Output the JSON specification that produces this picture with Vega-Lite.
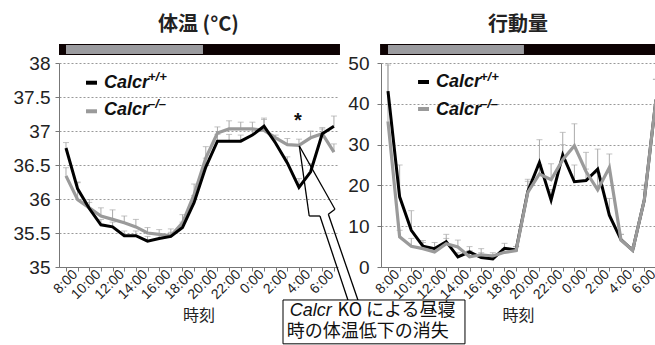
{
  "$schema": "https://vega.github.io/schema/vega-lite/v6.json",
  "padding": {"left": 13, "top": 14, "right": 0, "bottom": 0},
  "bounds": "flush",
  "spacing": 43,
  "config": {
    "font": "Liberation Sans",
    "view": {"stroke": null},
    "axis": {"labelFont": "Liberation Sans", "labelColor": "#222222", "domainColor": "#777777", "tickColor": "#777777", "gridColor": "#999999", "gridDash": [2, 2], "titleFont": "Noto Sans CJK JP", "titleFontWeight": "normal", "titleColor": "#222222", "labelOverlap": false, "labelFlush": false, "labelBound": false, "tickSize": 4},
    "axisX": {"labelAngle": -45, "labelAlign": "right", "labelBaseline": "middle", "labelFontSize": 14, "labelPadding": 1, "labelOffset": 9, "grid": false, "titleFontSize": 16, "titlePadding": 6},
    "axisY": {"grid": true, "labelFontSize": 19},
    "title": {"font": "Noto Sans CJK JP", "fontSize": 20, "fontWeight": "bold", "color": "#222222", "baseline": "bottom", "offset": 9}
  },
  "datasets": {
    "temp": [
      {"s":"wt","h":0,"v":36.75,"hi":36.83},{"s":"wt","h":1,"v":36.15,"hi":36.24},{"s":"wt","h":2,"v":35.86,"hi":35.95},{"s":"wt","h":3,"v":35.62,"hi":35.7},{"s":"wt","h":4,"v":35.59,"hi":35.66},{"s":"wt","h":5,"v":35.46,"hi":35.53},{"s":"wt","h":6,"v":35.46,"hi":35.53},{"s":"wt","h":7,"v":35.38,"hi":35.45},{"s":"wt","h":8,"v":35.42,"hi":35.48},{"s":"wt","h":9,"v":35.45,"hi":35.51},{"s":"wt","h":10,"v":35.58,"hi":35.66},{"s":"wt","h":11,"v":35.95,"hi":36.05},{"s":"wt","h":12,"v":36.47,"hi":36.6},{"s":"wt","h":13,"v":36.85,"hi":36.95},{"s":"wt","h":14,"v":36.85,"hi":36.95},{"s":"wt","h":15,"v":36.85,"hi":36.94},{"s":"wt","h":16,"v":36.94,"hi":37.02},{"s":"wt","h":17,"v":37.07,"hi":37.17},{"s":"wt","h":18,"v":36.82,"hi":36.9},{"s":"wt","h":19,"v":36.53,"hi":36.62},{"s":"wt","h":20,"v":36.17,"hi":36.3},{"s":"wt","h":21,"v":36.4,"hi":36.52},{"s":"wt","h":22,"v":36.96,"hi":37.05},{"s":"wt","h":23,"v":37.07,"hi":37.22},
      {"s":"ko","h":0,"v":36.34,"hi":36.46},{"s":"ko","h":1,"v":35.99,"hi":36.25},{"s":"ko","h":2,"v":35.87,"hi":35.99},{"s":"ko","h":3,"v":35.75,"hi":35.87},{"s":"ko","h":4,"v":35.7,"hi":35.84},{"s":"ko","h":5,"v":35.65,"hi":35.75},{"s":"ko","h":6,"v":35.59,"hi":35.7},{"s":"ko","h":7,"v":35.5,"hi":35.58},{"s":"ko","h":8,"v":35.48,"hi":35.55},{"s":"ko","h":9,"v":35.46,"hi":35.56},{"s":"ko","h":10,"v":35.65,"hi":35.77},{"s":"ko","h":11,"v":36.07,"hi":36.22},{"s":"ko","h":12,"v":36.6,"hi":36.77},{"s":"ko","h":13,"v":36.97,"hi":37.06},{"s":"ko","h":14,"v":37.03,"hi":37.15},{"s":"ko","h":15,"v":37.03,"hi":37.13},{"s":"ko","h":16,"v":37.03,"hi":37.13},{"s":"ko","h":17,"v":37.01,"hi":37.19},{"s":"ko","h":18,"v":36.9,"hi":36.94},{"s":"ko","h":19,"v":36.8,"hi":36.89},{"s":"ko","h":20,"v":36.79,"hi":36.88},{"s":"ko","h":21,"v":36.9,"hi":37.0},{"s":"ko","h":22,"v":36.96,"hi":37.03},{"s":"ko","h":23,"v":36.69,"hi":36.81}
    ],
    "act": [
      {"s":"wt","h":0,"v":43.1,"hi":50},{"s":"wt","h":1,"v":17.2,"hi":25},{"s":"wt","h":2,"v":9.0,"hi":13.8},{"s":"wt","h":3,"v":5.1,"hi":6.5},{"s":"wt","h":4,"v":4.5,"hi":6.0},{"s":"wt","h":5,"v":6.2,"hi":8.0},{"s":"wt","h":6,"v":2.5,"hi":3.5},{"s":"wt","h":7,"v":3.7,"hi":5.0},{"s":"wt","h":8,"v":2.3,"hi":3.5},{"s":"wt","h":9,"v":2.0,"hi":3.0},{"s":"wt","h":10,"v":4.6,"hi":5.8},{"s":"wt","h":11,"v":4.2,"hi":5.0},{"s":"wt","h":12,"v":18.5,"hi":21.5},{"s":"wt","h":13,"v":25.6,"hi":31.2},{"s":"wt","h":14,"v":16.4,"hi":19.0},{"s":"wt","h":15,"v":27.5,"hi":33.0},{"s":"wt","h":16,"v":20.9,"hi":25.0},{"s":"wt","h":17,"v":21.2,"hi":24.0},{"s":"wt","h":18,"v":24.0,"hi":28.9},{"s":"wt","h":19,"v":12.7,"hi":16.8},{"s":"wt","h":20,"v":6.7,"hi":8.0},{"s":"wt","h":21,"v":4.1,"hi":5.0},{"s":"wt","h":22,"v":16.4,"hi":20.1},{"s":"wt","h":23,"v":41,"hi":46},
      {"s":"ko","h":0,"v":35.7,"hi":49.5},{"s":"ko","h":1,"v":7.4,"hi":9.0},{"s":"ko","h":2,"v":5.1,"hi":7.0},{"s":"ko","h":3,"v":4.5,"hi":6.0},{"s":"ko","h":4,"v":3.7,"hi":4.5},{"s":"ko","h":5,"v":5.7,"hi":7.0},{"s":"ko","h":6,"v":4.9,"hi":6.6},{"s":"ko","h":7,"v":2.5,"hi":4.0},{"s":"ko","h":8,"v":3.0,"hi":4.5},{"s":"ko","h":9,"v":2.7,"hi":3.5},{"s":"ko","h":10,"v":3.6,"hi":4.5},{"s":"ko","h":11,"v":4.0,"hi":5.0},{"s":"ko","h":12,"v":18.3,"hi":21.0},{"s":"ko","h":13,"v":22.8,"hi":25.0},{"s":"ko","h":14,"v":21.4,"hi":25.3},{"s":"ko","h":15,"v":26.3,"hi":30.0},{"s":"ko","h":16,"v":29.7,"hi":35.1},{"s":"ko","h":17,"v":23.4,"hi":28.1},{"s":"ko","h":18,"v":18.9,"hi":23.0},{"s":"ko","h":19,"v":24.4,"hi":27.7},{"s":"ko","h":20,"v":6.6,"hi":8.0},{"s":"ko","h":21,"v":4.1,"hi":5.0},{"s":"ko","h":22,"v":16.4,"hi":19.0},{"s":"ko","h":23,"v":41,"hi":46}
    ]
  },
  "hconcat": [
    {
      "width": 279,
      "height": 204,
      "title": {"text": "体温 (°C)"},
      "layer": [
        {"data": {"name": "temp"}, "mark": {"type": "rule", "color": "#aaaaaa", "strokeWidth": 1},
         "encoding": {
           "x": {"field": "h", "type": "quantitative", "scale": {"domain": [-0.6, 23.35], "nice": false, "zero": false}, "axis": {"values": [0,1,2,3,4,5,6,7,8,9,10,11,12,13,14,15,16,17,18,19,20,21,22,23], "labelExpr": "datum.value % 2 == 0 ? ((datum.value + 8) % 24) + ':00' : ''", "title": "時刻"}},
           "y": {"field": "v", "type": "quantitative", "scale": {"domain": [35, 38], "nice": false, "zero": false}, "axis": {"values": [35, 35.5, 36, 36.5, 37, 37.5, 38], "labelExpr": "datum.value + ''", "title": null, "labelPadding": 5}},
           "y2": {"field": "hi"}}},
        {"data": {"name": "temp"}, "mark": {"type": "tick", "orient": "horizontal", "color": "#aaaaaa", "size": 6, "thickness": 1},
         "encoding": {
           "x": {"field": "h", "type": "quantitative", "axis": {"values": [0,1,2,3,4,5,6,7,8,9,10,11,12,13,14,15,16,17,18,19,20,21,22,23], "labelExpr": "datum.value % 2 == 0 ? ((datum.value + 8) % 24) + ':00' : ''", "title": "時刻"}},
           "y": {"field": "hi", "type": "quantitative", "axis": {"values": [35, 35.5, 36, 36.5, 37, 37.5, 38], "labelExpr": "datum.value + ''", "title": null, "labelPadding": 5}}}},
        {"data": {"name": "temp"}, "transform": [{"filter": "datum.s == 'ko'"}], "mark": {"type": "line", "color": "#9a9a9a", "strokeWidth": 3.2},
         "encoding": {
           "x": {"field": "h", "type": "quantitative", "axis": {"values": [0,1,2,3,4,5,6,7,8,9,10,11,12,13,14,15,16,17,18,19,20,21,22,23], "labelExpr": "datum.value % 2 == 0 ? ((datum.value + 8) % 24) + ':00' : ''", "title": "時刻"}},
           "y": {"field": "v", "type": "quantitative", "axis": {"values": [35, 35.5, 36, 36.5, 37, 37.5, 38], "labelExpr": "datum.value + ''", "title": null, "labelPadding": 5}}}},
        {"data": {"name": "temp"}, "transform": [{"filter": "datum.s == 'wt'"}], "mark": {"type": "line", "color": "#000000", "strokeWidth": 3},
         "encoding": {
           "x": {"field": "h", "type": "quantitative", "axis": {"values": [0,1,2,3,4,5,6,7,8,9,10,11,12,13,14,15,16,17,18,19,20,21,22,23], "labelExpr": "datum.value % 2 == 0 ? ((datum.value + 8) % 24) + ':00' : ''", "title": "時刻"}},
           "y": {"field": "v", "type": "quantitative", "axis": {"values": [35, 35.5, 36, 36.5, 37, 37.5, 38], "labelExpr": "datum.value + ''", "title": null, "labelPadding": 5}}}},
        {"data": {"values": [{}]}, "mark": {"type": "rect", "color": "#0d0203", "clip": false},
         "encoding": {"x": {"datum": -0.6, "type": "quantitative", "axis": {"values": [0,1,2,3,4,5,6,7,8,9,10,11,12,13,14,15,16,17,18,19,20,21,22,23], "labelExpr": "datum.value % 2 == 0 ? ((datum.value + 8) % 24) + ':00' : ''", "title": "時刻"}}, "x2": {"datum": 23.52}, "y": {"datum": 38.28, "type": "quantitative", "axis": {"values": [35, 35.5, 36, 36.5, 37, 37.5, 38], "labelExpr": "datum.value + ''", "title": null, "labelPadding": 5}}, "y2": {"datum": 38.118}}},
        {"data": {"values": [{}]}, "mark": {"type": "rect", "color": "#9b9b9f", "clip": false},
         "encoding": {"x": {"datum": 0, "type": "quantitative", "axis": {"values": [0,1,2,3,4,5,6,7,8,9,10,11,12,13,14,15,16,17,18,19,20,21,22,23], "labelExpr": "datum.value % 2 == 0 ? ((datum.value + 8) % 24) + ':00' : ''", "title": "時刻"}}, "x2": {"datum": 11.76}, "y": {"datum": 38.265, "type": "quantitative", "axis": {"values": [35, 35.5, 36, 36.5, 37, 37.5, 38], "labelExpr": "datum.value + ''", "title": null, "labelPadding": 5}}, "y2": {"datum": 38.132}}},
        {"data": {"values": [{}]}, "mark": {"type": "rule", "color": "#000000", "strokeWidth": 4, "clip": false},
         "encoding": {"x": {"datum": 1.72, "type": "quantitative", "axis": {"values": [0,1,2,3,4,5,6,7,8,9,10,11,12,13,14,15,16,17,18,19,20,21,22,23], "labelExpr": "datum.value % 2 == 0 ? ((datum.value + 8) % 24) + ':00' : ''", "title": "時刻"}}, "x2": {"datum": 2.66}, "y": {"datum": 37.71, "type": "quantitative", "axis": {"values": [35, 35.5, 36, 36.5, 37, 37.5, 38], "labelExpr": "datum.value + ''", "title": null, "labelPadding": 5}}}},
        {"data": {"values": [{}]}, "mark": {"type": "rule", "color": "#9a9a9a", "strokeWidth": 4, "clip": false},
         "encoding": {"x": {"datum": 1.72, "type": "quantitative", "axis": {"values": [0,1,2,3,4,5,6,7,8,9,10,11,12,13,14,15,16,17,18,19,20,21,22,23], "labelExpr": "datum.value % 2 == 0 ? ((datum.value + 8) % 24) + ':00' : ''", "title": "時刻"}}, "x2": {"datum": 2.66}, "y": {"datum": 37.29, "type": "quantitative", "axis": {"values": [35, 35.5, 36, 36.5, 37, 37.5, 38], "labelExpr": "datum.value + ''", "title": null, "labelPadding": 5}}}},
        {"data": {"values": [{}]}, "mark": {"type": "text", "text": "Calcr", "font": "Liberation Sans", "fontWeight": "bold", "fontStyle": "italic", "fontSize": 18, "align": "left", "baseline": "middle", "color": "#111111"},
         "encoding": {"x": {"datum": 3.26, "type": "quantitative", "axis": {"values": [0,1,2,3,4,5,6,7,8,9,10,11,12,13,14,15,16,17,18,19,20,21,22,23], "labelExpr": "datum.value % 2 == 0 ? ((datum.value + 8) % 24) + ':00' : ''", "title": "時刻"}}, "y": {"datum": 37.713, "type": "quantitative", "axis": {"values": [35, 35.5, 36, 36.5, 37, 37.5, 38], "labelExpr": "datum.value + ''", "title": null, "labelPadding": 5}}}},
        {"data": {"values": [{}]}, "mark": {"type": "text", "text": "+/+", "font": "Liberation Sans", "fontWeight": "bold", "fontStyle": "italic", "fontSize": 13, "align": "left", "baseline": "middle", "color": "#111111"},
         "encoding": {"x": {"datum": 7.04, "type": "quantitative", "axis": {"values": [0,1,2,3,4,5,6,7,8,9,10,11,12,13,14,15,16,17,18,19,20,21,22,23], "labelExpr": "datum.value % 2 == 0 ? ((datum.value + 8) % 24) + ':00' : ''", "title": "時刻"}}, "y": {"datum": 37.8, "type": "quantitative", "axis": {"values": [35, 35.5, 36, 36.5, 37, 37.5, 38], "labelExpr": "datum.value + ''", "title": null, "labelPadding": 5}}}},
        {"data": {"values": [{}]}, "mark": {"type": "text", "text": "Calcr", "font": "Liberation Sans", "fontWeight": "bold", "fontStyle": "italic", "fontSize": 18, "align": "left", "baseline": "middle", "color": "#111111"},
         "encoding": {"x": {"datum": 3.26, "type": "quantitative", "axis": {"values": [0,1,2,3,4,5,6,7,8,9,10,11,12,13,14,15,16,17,18,19,20,21,22,23], "labelExpr": "datum.value % 2 == 0 ? ((datum.value + 8) % 24) + ':00' : ''", "title": "時刻"}}, "y": {"datum": 37.316, "type": "quantitative", "axis": {"values": [35, 35.5, 36, 36.5, 37, 37.5, 38], "labelExpr": "datum.value + ''", "title": null, "labelPadding": 5}}}},
        {"data": {"values": [{}]}, "mark": {"type": "text", "text": "–/–", "font": "Liberation Sans", "fontWeight": "bold", "fontStyle": "italic", "fontSize": 13, "align": "left", "baseline": "middle", "color": "#111111"},
         "encoding": {"x": {"datum": 7.04, "type": "quantitative", "axis": {"values": [0,1,2,3,4,5,6,7,8,9,10,11,12,13,14,15,16,17,18,19,20,21,22,23], "labelExpr": "datum.value % 2 == 0 ? ((datum.value + 8) % 24) + ':00' : ''", "title": "時刻"}}, "y": {"datum": 37.4, "type": "quantitative", "axis": {"values": [35, 35.5, 36, 36.5, 37, 37.5, 38], "labelExpr": "datum.value + ''", "title": null, "labelPadding": 5}}}},
        {"data": {"values": [{}]}, "mark": {"type": "text", "text": "*", "font": "Liberation Sans", "fontWeight": "bold", "fontSize": 20, "align": "center", "baseline": "middle", "color": "#111111"},
         "encoding": {"x": {"datum": 19.9, "type": "quantitative", "axis": {"values": [0,1,2,3,4,5,6,7,8,9,10,11,12,13,14,15,16,17,18,19,20,21,22,23], "labelExpr": "datum.value % 2 == 0 ? ((datum.value + 8) % 24) + ':00' : ''", "title": "時刻"}}, "y": {"datum": 37.15, "type": "quantitative", "axis": {"values": [35, 35.5, 36, 36.5, 37, 37.5, 38], "labelExpr": "datum.value + ''", "title": null, "labelPadding": 5}}}},
        {"data": {"values": [{}]}, "mark": {"type": "rule", "color": "#000000", "strokeWidth": 1.3, "clip": false},
         "encoding": {"x": {"datum": 20.03, "type": "quantitative", "axis": {"values": [0,1,2,3,4,5,6,7,8,9,10,11,12,13,14,15,16,17,18,19,20,21,22,23], "labelExpr": "datum.value % 2 == 0 ? ((datum.value + 8) % 24) + ':00' : ''", "title": "時刻"}}, "y": {"datum": 36.78, "type": "quantitative", "axis": {"values": [35, 35.5, 36, 36.5, 37, 37.5, 38], "labelExpr": "datum.value + ''", "title": null, "labelPadding": 5}}, "x2": {"datum": 20.88}, "y2": {"datum": 35.75}}},
        {"data": {"values": [{}]}, "mark": {"type": "rule", "color": "#000000", "strokeWidth": 1.3, "clip": false},
         "encoding": {"x": {"datum": 20.88, "type": "quantitative", "axis": {"values": [0,1,2,3,4,5,6,7,8,9,10,11,12,13,14,15,16,17,18,19,20,21,22,23], "labelExpr": "datum.value % 2 == 0 ? ((datum.value + 8) % 24) + ':00' : ''", "title": "時刻"}}, "y": {"datum": 35.75, "type": "quantitative", "axis": {"values": [35, 35.5, 36, 36.5, 37, 37.5, 38], "labelExpr": "datum.value + ''", "title": null, "labelPadding": 5}}, "x2": {"datum": 21.8}, "y2": {"datum": 35.75}}},
        {"data": {"values": [{}]}, "mark": {"type": "rule", "color": "#000000", "strokeWidth": 1.3, "clip": false},
         "encoding": {"x": {"datum": 21.8, "type": "quantitative", "axis": {"values": [0,1,2,3,4,5,6,7,8,9,10,11,12,13,14,15,16,17,18,19,20,21,22,23], "labelExpr": "datum.value % 2 == 0 ? ((datum.value + 8) % 24) + ':00' : ''", "title": "時刻"}}, "y": {"datum": 35.75, "type": "quantitative", "axis": {"values": [35, 35.5, 36, 36.5, 37, 37.5, 38], "labelExpr": "datum.value + ''", "title": null, "labelPadding": 5}}, "x2": {"datum": 24.23}, "y2": {"datum": 34.5}}},
        {"data": {"values": [{}]}, "mark": {"type": "rule", "color": "#000000", "strokeWidth": 1.3, "clip": false},
         "encoding": {"x": {"datum": 25.09, "type": "quantitative", "axis": {"values": [0,1,2,3,4,5,6,7,8,9,10,11,12,13,14,15,16,17,18,19,20,21,22,23], "labelExpr": "datum.value % 2 == 0 ? ((datum.value + 8) % 24) + ':00' : ''", "title": "時刻"}}, "y": {"datum": 34.5, "type": "quantitative", "axis": {"values": [35, 35.5, 36, 36.5, 37, 37.5, 38], "labelExpr": "datum.value + ''", "title": null, "labelPadding": 5}}, "x2": {"datum": 22.52}, "y2": {"datum": 35.775}}},
        {"data": {"values": [{}]}, "mark": {"type": "rule", "color": "#000000", "strokeWidth": 1.3, "clip": false},
         "encoding": {"x": {"datum": 22.52, "type": "quantitative", "axis": {"values": [0,1,2,3,4,5,6,7,8,9,10,11,12,13,14,15,16,17,18,19,20,21,22,23], "labelExpr": "datum.value % 2 == 0 ? ((datum.value + 8) % 24) + ':00' : ''", "title": "時刻"}}, "y": {"datum": 35.775, "type": "quantitative", "axis": {"values": [35, 35.5, 36, 36.5, 37, 37.5, 38], "labelExpr": "datum.value + ''", "title": null, "labelPadding": 5}}, "x2": {"datum": 23.09}, "y2": {"datum": 35.85}}},
        {"data": {"values": [{}]}, "mark": {"type": "rule", "color": "#000000", "strokeWidth": 1.3, "clip": false},
         "encoding": {"x": {"datum": 23.09, "type": "quantitative", "axis": {"values": [0,1,2,3,4,5,6,7,8,9,10,11,12,13,14,15,16,17,18,19,20,21,22,23], "labelExpr": "datum.value % 2 == 0 ? ((datum.value + 8) % 24) + ':00' : ''", "title": "時刻"}}, "y": {"datum": 35.85, "type": "quantitative", "axis": {"values": [35, 35.5, 36, 36.5, 37, 37.5, 38], "labelExpr": "datum.value + ''", "title": null, "labelPadding": 5}}, "x2": {"datum": 20.03}, "y2": {"datum": 36.78}}},
        {"data": {"values": [{}]}, "mark": {"type": "rect", "fill": "#ffffff", "stroke": "#000000", "strokeWidth": 1, "clip": false},
         "encoding": {"x": {"datum": 18.63, "type": "quantitative", "axis": {"values": [0,1,2,3,4,5,6,7,8,9,10,11,12,13,14,15,16,17,18,19,20,21,22,23], "labelExpr": "datum.value % 2 == 0 ? ((datum.value + 8) % 24) + ':00' : ''", "title": "時刻"}}, "x2": {"datum": 34.25}, "y": {"datum": 34.515, "type": "quantitative", "axis": {"values": [35, 35.5, 36, 36.5, 37, 37.5, 38], "labelExpr": "datum.value + ''", "title": null, "labelPadding": 5}}, "y2": {"datum": 33.87}}},
        {"data": {"values": [{}]}, "mark": {"type": "text", "text": "Calcr", "font": "Liberation Sans", "fontStyle": "italic", "fontSize": 18, "align": "left", "baseline": "middle", "color": "#111111"},
         "encoding": {"x": {"datum": 19.2, "type": "quantitative", "axis": {"values": [0,1,2,3,4,5,6,7,8,9,10,11,12,13,14,15,16,17,18,19,20,21,22,23], "labelExpr": "datum.value % 2 == 0 ? ((datum.value + 8) % 24) + ':00' : ''", "title": "時刻"}}, "y": {"datum": 34.355, "type": "quantitative", "axis": {"values": [35, 35.5, 36, 36.5, 37, 37.5, 38], "labelExpr": "datum.value + ''", "title": null, "labelPadding": 5}}}},
        {"data": {"values": [{}]}, "mark": {"type": "text", "text": "KO による昼寝", "font": "Noto Sans CJK JP", "fontSize": 18, "align": "left", "baseline": "middle", "color": "#111111"},
         "encoding": {"x": {"datum": 23.3, "type": "quantitative", "axis": {"values": [0,1,2,3,4,5,6,7,8,9,10,11,12,13,14,15,16,17,18,19,20,21,22,23], "labelExpr": "datum.value % 2 == 0 ? ((datum.value + 8) % 24) + ':00' : ''", "title": "時刻"}}, "y": {"datum": 34.355, "type": "quantitative", "axis": {"values": [35, 35.5, 36, 36.5, 37, 37.5, 38], "labelExpr": "datum.value + ''", "title": null, "labelPadding": 5}}}},
        {"data": {"values": [{}]}, "mark": {"type": "text", "text": "時の体温低下の消失", "font": "Noto Sans CJK JP", "fontSize": 18, "align": "left", "baseline": "middle", "color": "#111111"},
         "encoding": {"x": {"datum": 18.95, "type": "quantitative", "axis": {"values": [0,1,2,3,4,5,6,7,8,9,10,11,12,13,14,15,16,17,18,19,20,21,22,23], "labelExpr": "datum.value % 2 == 0 ? ((datum.value + 8) % 24) + ':00' : ''", "title": "時刻"}}, "y": {"datum": 34.05, "type": "quantitative", "axis": {"values": [35, 35.5, 36, 36.5, 37, 37.5, 38], "labelExpr": "datum.value + ''", "title": null, "labelPadding": 5}}}}
      ]
    },
    {
      "width": 274,
      "height": 204,
      "title": {"text": "行動量"},
      "layer": [
        {"data": {"name": "act"}, "mark": {"type": "rule", "color": "#aaaaaa", "strokeWidth": 1, "clip": true},
         "encoding": {
           "x": {"field": "h", "type": "quantitative", "scale": {"domain": [-0.6, 22.92], "nice": false, "zero": false}, "axis": {"values": [0,1,2,3,4,5,6,7,8,9,10,11,12,13,14,15,16,17,18,19,20,21,22], "labelExpr": "datum.value % 2 == 0 ? ((datum.value + 8) % 24) + ':00' : ''", "title": "時刻"}},
           "y": {"field": "v", "type": "quantitative", "scale": {"domain": [0, 50], "nice": false, "zero": false}, "axis": {"values": [0, 10, 20, 30, 40, 50], "title": null, "labelPadding": 8}},
           "y2": {"field": "hi"}}},
        {"data": {"name": "act"}, "mark": {"type": "tick", "orient": "horizontal", "color": "#aaaaaa", "size": 6, "thickness": 1, "clip": true},
         "encoding": {
           "x": {"field": "h", "type": "quantitative", "axis": {"values": [0,1,2,3,4,5,6,7,8,9,10,11,12,13,14,15,16,17,18,19,20,21,22], "labelExpr": "datum.value % 2 == 0 ? ((datum.value + 8) % 24) + ':00' : ''", "title": "時刻"}},
           "y": {"field": "hi", "type": "quantitative", "axis": {"values": [0, 10, 20, 30, 40, 50], "title": null, "labelPadding": 8}}}},
        {"data": {"name": "act"}, "transform": [{"filter": "datum.s == 'wt'"}], "mark": {"type": "line", "color": "#000000", "strokeWidth": 3, "clip": true},
         "encoding": {
           "x": {"field": "h", "type": "quantitative", "axis": {"values": [0,1,2,3,4,5,6,7,8,9,10,11,12,13,14,15,16,17,18,19,20,21,22], "labelExpr": "datum.value % 2 == 0 ? ((datum.value + 8) % 24) + ':00' : ''", "title": "時刻"}},
           "y": {"field": "v", "type": "quantitative", "axis": {"values": [0, 10, 20, 30, 40, 50], "title": null, "labelPadding": 8}}}},
        {"data": {"name": "act"}, "transform": [{"filter": "datum.s == 'ko'"}], "mark": {"type": "line", "color": "#9a9a9a", "strokeWidth": 3.2, "clip": true},
         "encoding": {
           "x": {"field": "h", "type": "quantitative", "axis": {"values": [0,1,2,3,4,5,6,7,8,9,10,11,12,13,14,15,16,17,18,19,20,21,22], "labelExpr": "datum.value % 2 == 0 ? ((datum.value + 8) % 24) + ':00' : ''", "title": "時刻"}},
           "y": {"field": "v", "type": "quantitative", "axis": {"values": [0, 10, 20, 30, 40, 50], "title": null, "labelPadding": 8}}}},
        {"data": {"values": [{}]}, "mark": {"type": "rect", "color": "#0d0203", "clip": false},
         "encoding": {"x": {"datum": -0.68, "type": "quantitative", "axis": {"values": [0,1,2,3,4,5,6,7,8,9,10,11,12,13,14,15,16,17,18,19,20,21,22], "labelExpr": "datum.value % 2 == 0 ? ((datum.value + 8) % 24) + ':00' : ''", "title": "時刻"}}, "x2": {"datum": 22.92}, "y": {"datum": 54.68, "type": "quantitative", "axis": {"values": [0, 10, 20, 30, 40, 50], "title": null, "labelPadding": 8}}, "y2": {"datum": 51.97}}},
        {"data": {"values": [{}]}, "mark": {"type": "rect", "color": "#9b9b9f", "clip": false},
         "encoding": {"x": {"datum": 0, "type": "quantitative", "axis": {"values": [0,1,2,3,4,5,6,7,8,9,10,11,12,13,14,15,16,17,18,19,20,21,22], "labelExpr": "datum.value % 2 == 0 ? ((datum.value + 8) % 24) + ':00' : ''", "title": "時刻"}}, "x2": {"datum": 11.67}, "y": {"datum": 54.43, "type": "quantitative", "axis": {"values": [0, 10, 20, 30, 40, 50], "title": null, "labelPadding": 8}}, "y2": {"datum": 52.2}}},
        {"data": {"values": [{}]}, "mark": {"type": "rule", "color": "#000000", "strokeWidth": 4},
         "encoding": {"x": {"datum": 2.58, "type": "quantitative", "axis": {"values": [0,1,2,3,4,5,6,7,8,9,10,11,12,13,14,15,16,17,18,19,20,21,22], "labelExpr": "datum.value % 2 == 0 ? ((datum.value + 8) % 24) + ':00' : ''", "title": "時刻"}}, "x2": {"datum": 3.52}, "y": {"datum": 45.34, "type": "quantitative", "axis": {"values": [0, 10, 20, 30, 40, 50], "title": null, "labelPadding": 8}}}},
        {"data": {"values": [{}]}, "mark": {"type": "rule", "color": "#9a9a9a", "strokeWidth": 4},
         "encoding": {"x": {"datum": 2.58, "type": "quantitative", "axis": {"values": [0,1,2,3,4,5,6,7,8,9,10,11,12,13,14,15,16,17,18,19,20,21,22], "labelExpr": "datum.value % 2 == 0 ? ((datum.value + 8) % 24) + ':00' : ''", "title": "時刻"}}, "x2": {"datum": 3.52}, "y": {"datum": 38.73, "type": "quantitative", "axis": {"values": [0, 10, 20, 30, 40, 50], "title": null, "labelPadding": 8}}}},
        {"data": {"values": [{}]}, "mark": {"type": "text", "text": "Calcr", "font": "Liberation Sans", "fontWeight": "bold", "fontStyle": "italic", "fontSize": 18, "align": "left", "baseline": "middle", "color": "#111111"},
         "encoding": {"x": {"datum": 4.12, "type": "quantitative", "axis": {"values": [0,1,2,3,4,5,6,7,8,9,10,11,12,13,14,15,16,17,18,19,20,21,22], "labelExpr": "datum.value % 2 == 0 ? ((datum.value + 8) % 24) + ':00' : ''", "title": "時刻"}}, "y": {"datum": 45.3, "type": "quantitative", "axis": {"values": [0, 10, 20, 30, 40, 50], "title": null, "labelPadding": 8}}}},
        {"data": {"values": [{}]}, "mark": {"type": "text", "text": "+/+", "font": "Liberation Sans", "fontWeight": "bold", "fontStyle": "italic", "fontSize": 13, "align": "left", "baseline": "middle", "color": "#111111"},
         "encoding": {"x": {"datum": 7.9, "type": "quantitative", "axis": {"values": [0,1,2,3,4,5,6,7,8,9,10,11,12,13,14,15,16,17,18,19,20,21,22], "labelExpr": "datum.value % 2 == 0 ? ((datum.value + 8) % 24) + ':00' : ''", "title": "時刻"}}, "y": {"datum": 46.5, "type": "quantitative", "axis": {"values": [0, 10, 20, 30, 40, 50], "title": null, "labelPadding": 8}}}},
        {"data": {"values": [{}]}, "mark": {"type": "text", "text": "Calcr", "font": "Liberation Sans", "fontWeight": "bold", "fontStyle": "italic", "fontSize": 18, "align": "left", "baseline": "middle", "color": "#111111"},
         "encoding": {"x": {"datum": 4.12, "type": "quantitative", "axis": {"values": [0,1,2,3,4,5,6,7,8,9,10,11,12,13,14,15,16,17,18,19,20,21,22], "labelExpr": "datum.value % 2 == 0 ? ((datum.value + 8) % 24) + ':00' : ''", "title": "時刻"}}, "y": {"datum": 38.6, "type": "quantitative", "axis": {"values": [0, 10, 20, 30, 40, 50], "title": null, "labelPadding": 8}}}},
        {"data": {"values": [{}]}, "mark": {"type": "text", "text": "–/–", "font": "Liberation Sans", "fontWeight": "bold", "fontStyle": "italic", "fontSize": 13, "align": "left", "baseline": "middle", "color": "#111111"},
         "encoding": {"x": {"datum": 7.9, "type": "quantitative", "axis": {"values": [0,1,2,3,4,5,6,7,8,9,10,11,12,13,14,15,16,17,18,19,20,21,22], "labelExpr": "datum.value % 2 == 0 ? ((datum.value + 8) % 24) + ':00' : ''", "title": "時刻"}}, "y": {"datum": 39.9, "type": "quantitative", "axis": {"values": [0, 10, 20, 30, 40, 50], "title": null, "labelPadding": 8}}}}
      ]
    }
  ]
}
